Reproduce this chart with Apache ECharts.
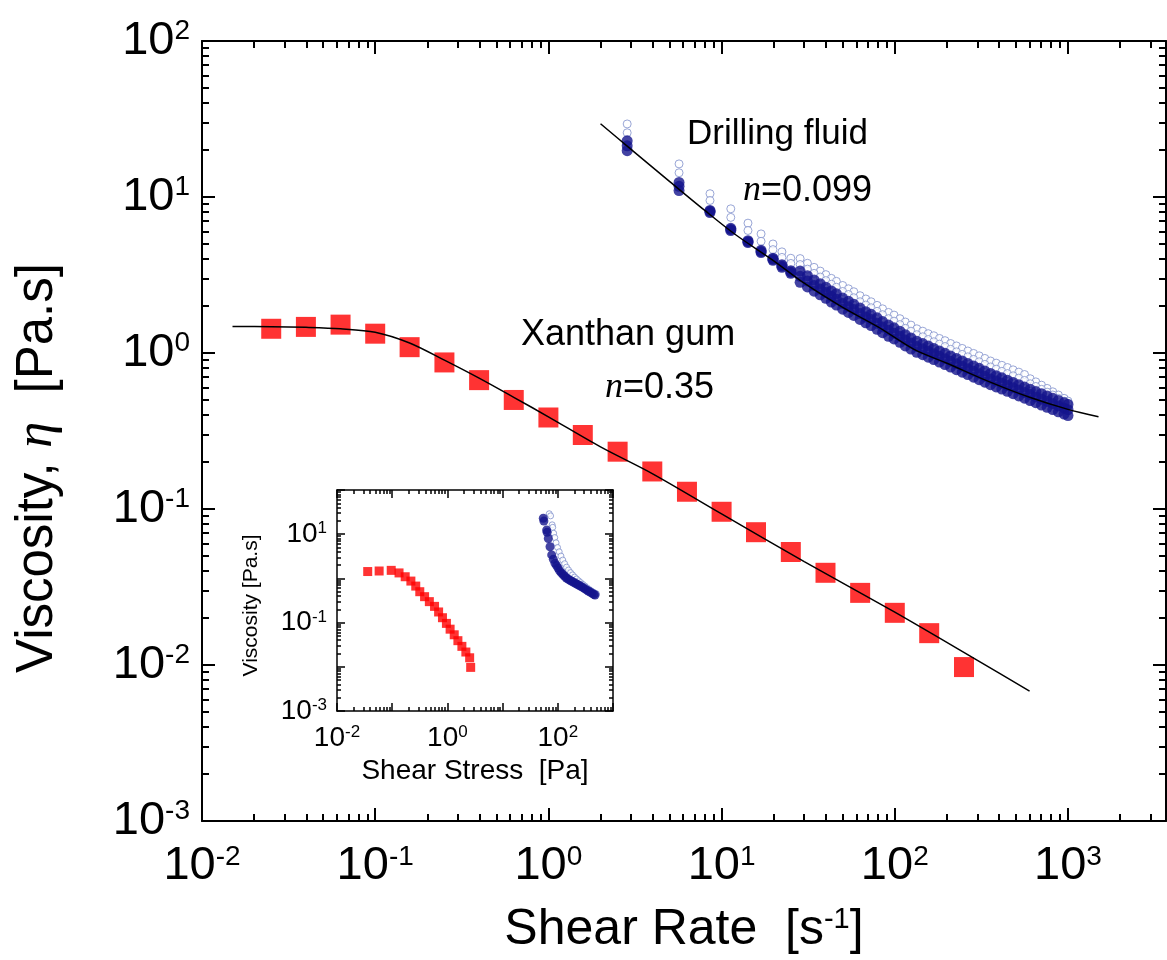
<!DOCTYPE html>
<html>
<head>
<meta charset="utf-8">
<script src="https://cdn.jsdelivr.net/npm/echarts@6/dist/echarts.min.js"></script>
<style>
html, body { margin: 0; padding: 0; background: #fff; }
#chart { width: 1167px; height: 960px; }
</style>
</head>
<body>
<div id="chart"></div>
<script>
// main plot: viscosity [Pa.s] vs shear rate [1/s]
const xanthanRate = [0.0251, 0.0398, 0.0631, 0.1, 0.158, 0.251, 0.398, 0.631, 1, 1.58, 2.51, 3.98, 6.31, 10, 15.8, 25.1, 39.8, 63.1, 100, 158, 251];
const xanthanVisc = [1.43, 1.47, 1.52, 1.33, 1.09, 0.87, 0.67, 0.50, 0.386, 0.298, 0.233, 0.174, 0.129, 0.096, 0.071, 0.053, 0.039, 0.029, 0.0216, 0.016, 0.0097];
const xanthanFitRate = [0.015, 0.0251, 0.0398, 0.0631, 0.1, 0.158, 0.251, 0.398, 0.631, 1, 2, 4, 10, 30, 100, 300, 600];
const xanthanFitVisc = [1.48, 1.475, 1.46, 1.43, 1.36, 1.16, 0.90, 0.69, 0.52, 0.39, 0.25, 0.168, 0.093, 0.046, 0.0218, 0.0107, 0.0068];

const drillRate = [2.85, 5.68, 8.57, 11.3, 14.2, 16.9, 19.8, 22.3, 25.1, 28.4, 31.3, 34.2, 37.1, 40, 43, 46, 50, 54, 58, 63, 68, 73, 79, 85, 92, 99, 107, 115, 124, 134, 145, 156, 168, 181, 195, 210, 227, 245, 264, 285, 307, 331, 357, 385, 415, 447, 482, 520, 561, 605, 652, 703, 758, 817, 880, 950, 1000];
const drillFilledLow = [19.8, 11.0, 7.95, 6.1, 5.1, 4.4, 3.93, 3.54, 3.24, 2.84, 2.65, 2.49, 2.36, 2.24, 2.12, 2.03, 1.91, 1.82, 1.74, 1.64, 1.56, 1.50, 1.42, 1.35, 1.28, 1.23, 1.17, 1.11, 1.06, 1.01, 0.975, 0.94, 0.907, 0.875, 0.843, 0.812, 0.782, 0.754, 0.727, 0.70, 0.675, 0.65, 0.626, 0.606, 0.587, 0.568, 0.549, 0.531, 0.513, 0.496, 0.48, 0.464, 0.449, 0.434, 0.42, 0.406, 0.397];
const drillFilledMid = [21.3, 11.7, 8.1, 6.2, 5.17, 4.47, 3.99, 3.61, 3.3, 3.1, 2.89, 2.71, 2.57, 2.44, 2.31, 2.21, 2.08, 1.98, 1.90, 1.79, 1.70, 1.64, 1.55, 1.47, 1.40, 1.34, 1.28, 1.21, 1.16, 1.10, 1.063, 1.025, 0.989, 0.954, 0.919, 0.885, 0.852, 0.822, 0.792, 0.763, 0.736, 0.709, 0.682, 0.661, 0.64, 0.619, 0.598, 0.579, 0.559, 0.541, 0.523, 0.506, 0.489, 0.473, 0.458, 0.443, 0.433];
const drillFilledHigh = [22.9, 12.4, 8.2, 6.3, 5.25, 4.55, 4.05, 3.68, 3.37, 3.35, 3.13, 2.94, 2.78, 2.64, 2.50, 2.40, 2.25, 2.15, 2.05, 1.94, 1.84, 1.77, 1.68, 1.59, 1.51, 1.45, 1.38, 1.31, 1.25, 1.19, 1.15, 1.11, 1.07, 1.03, 0.995, 0.958, 0.923, 0.89, 0.858, 0.826, 0.797, 0.767, 0.739, 0.715, 0.693, 0.67, 0.648, 0.627, 0.605, 0.585, 0.566, 0.548, 0.53, 0.512, 0.496, 0.479, 0.468];
const drillOpenLow = [25.8, 14.3, 9.5, 7.4, 6.1, 5.2, 4.6, 4.1, 3.75, 3.69, 3.45, 3.24, 3.07, 2.91, 2.76, 2.64, 2.48, 2.37, 2.26, 2.13, 2.03, 1.95, 1.85, 1.76, 1.66, 1.60, 1.52, 1.44, 1.38, 1.31, 1.27, 1.22, 1.18, 1.14, 1.10, 1.056, 1.017, 0.98, 0.945, 0.91, 0.878, 0.845, 0.814, 0.788, 0.763, 0.738, 0.714, 0.69, 0.667, 0.635, 0.61, 0.585, 0.561, 0.538, 0.512, 0.491, 0.476];
const drillOpenHigh = [29.4, 16.3, 10.5, 8.4, 6.8, 5.8, 5.0, 4.45, 4.05, 4.03, 3.76, 3.54, 3.35, 3.18, 3.01, 2.88, 2.71, 2.58, 2.47, 2.33, 2.22, 2.13, 2.02, 1.92, 1.82, 1.75, 1.66, 1.58, 1.51, 1.43, 1.38, 1.33, 1.29, 1.24, 1.20, 1.15, 1.11, 1.07, 1.03, 0.994, 0.959, 0.923, 0.889, 0.861, 0.834, 0.807, 0.78, 0.754, 0.728, 0.684, 0.653, 0.622, 0.593, 0.564, 0.538, 0.512, 0.492];
const drillFitRate = [2.0, 3, 5, 8, 12, 20, 30, 50, 80, 130, 200, 350, 600, 1000, 1500];
const drillFitVisc = [29.5, 20.2, 12.6, 8.2, 5.75, 3.9, 2.8, 1.96, 1.47, 1.05, 0.86, 0.655, 0.52, 0.435, 0.39];

// inset: viscosity vs shear stress [Pa]
const insetXanthanStress = [0.036, 0.058, 0.096, 0.133, 0.172, 0.218, 0.267, 0.316, 0.386, 0.471, 0.585, 0.693, 0.814, 0.96, 1.12, 1.33, 1.55, 1.83, 2.16, 2.53, 2.64];
const insetDrillStress = [54.6, 56, 62.8, 64, 67.3, 72.3, 77.5, 83, 89, 95, 101, 108, 116, 124, 133, 143, 154, 166, 179, 193, 208, 224, 242, 261, 282, 305, 330, 357, 386, 418, 450, 472];
const insetDrillVisc = [22.9, 19.8, 12.4, 11, 8.0, 5.2, 3.4, 2.7, 2.19, 1.95, 1.72, 1.48, 1.33, 1.22, 1.12, 1.02, 0.96, 0.91, 0.86, 0.815, 0.775, 0.735, 0.70, 0.665, 0.625, 0.585, 0.55, 0.52, 0.49, 0.46, 0.435, 0.42];
const insetOpenStress = [70, 74, 79, 81, 84, 88, 93, 99, 106, 114, 123, 133, 144, 156, 170, 185, 201, 219, 239, 261, 285, 311, 340, 372, 406, 440, 475, 500];
const insetOpenVisc = [29, 26, 16.3, 14.3, 10.5, 8.4, 6.4, 5.0, 4.0, 3.2, 2.6, 2.15, 1.8, 1.55, 1.35, 1.2, 1.07, 0.97, 0.88, 0.8, 0.73, 0.67, 0.61, 0.56, 0.52, 0.49, 0.46, 0.45];

// ticks and labels
const mainXTicks = [0.01, 0.1, 1, 10, 100, 1000];
const mainYTicks = [0.001, 0.01, 0.1, 1, 10, 100];
const insetXTicks = [0.01, 0.1, 1, 10, 100, 1000];
const insetYTicks = [0.001, 0.01, 0.1, 1, 10, 100];
const insetXLabels = [0.01, 1, 100];
const insetYLabels = [0.001, 0.1, 10];

const FONT = '"Liberation Sans", Arial, sans-serif';
const SERIF = '"Liberation Serif", "Times New Roman", serif';

function pairs(xs, ys) { return xs.map((x, i) => [x, ys[i]]); }

function minorValues(lo, hi) {
  const out = [];
  for (let e = Math.floor(Math.log10(lo)); e <= Math.ceil(Math.log10(hi)); e++) {
    for (let m = 2; m <= 9; m++) {
      const v = +(m * Math.pow(10, e)).toPrecision(3);
      if (v > lo && v < hi) out.push(v);
    }
  }
  return out;
}

function powLabel(v) {
  return '{b|10}{s|' + Math.round(Math.log10(v)) + '}';
}

// one side of a frame = a major-tick axis plus a minor-tick axis
function side(gridIndex, position, min, max, majors, o) {
  const base = { type: 'log', logBase: 10, gridIndex: gridIndex, position: position, min: min, max: max, splitLine: { show: false } };
  const major = Object.assign({}, base, {
    axisLine: { show: true, onZero: false, lineStyle: { color: '#000', width: o.lineWidth } },
    axisTick: { show: true, inside: true, length: o.major, customValues: majors, lineStyle: { color: '#000', width: o.tickWidth } },
    axisLabel: o.labels ? {
      show: true, customValues: o.labels, margin: o.margin, formatter: powLabel,
      rich: {
        b: { fontSize: o.fs, fontFamily: FONT, color: '#000', lineHeight: o.fs },
        s: { fontSize: o.sfs, fontFamily: FONT, color: '#000', lineHeight: o.sfs / 2, verticalAlign: 'top' }
      }
    } : { show: false }
  }, o.extra || {});
  const minor = Object.assign({}, base, {
    axisLine: { show: false, onZero: false },
    axisTick: { show: true, inside: true, length: o.minor, customValues: minorValues(min, max), lineStyle: { color: '#000', width: o.tickWidth } },
    axisLabel: { show: false }
  });
  return [major, minor];
}

const mainOpt = { lineWidth: 2, tickWidth: 2, major: 13, minor: 7, fs: 47, sfs: 28 };
const insetOpt = { lineWidth: 1.5, tickWidth: 1.5, major: 8, minor: 4, fs: 28, sfs: 17 };
const XMAX = 3680;

const xAxes = [].concat(
  side(0, 'bottom', 0.01, XMAX, mainXTicks, Object.assign({}, mainOpt, {
    labels: mainXTicks, margin: 22,
    extra: {
      name: '{t|Shear Rate  [s}{s|-1}{t|]}', nameLocation: 'middle', nameGap: 84,
      nameTextStyle: { rich: {
        t: { fontSize: 50, fontFamily: FONT, color: '#000', lineHeight: 50 },
        s: { fontSize: 29, fontFamily: FONT, color: '#000', lineHeight: 12, verticalAlign: 'top' }
      } }
    }
  })),
  side(0, 'top', 0.01, XMAX, mainXTicks, mainOpt),
  side(1, 'bottom', 0.01, 1000, insetXTicks, Object.assign({}, insetOpt, {
    labels: insetXLabels, margin: 13,
    extra: {
      name: 'Shear Stress  [Pa]', nameLocation: 'middle', nameGap: 46,
      nameTextStyle: { fontSize: 28, fontFamily: FONT, color: '#000' }
    }
  })),
  side(1, 'top', 0.01, 1000, insetXTicks, insetOpt)
);

const yAxes = [].concat(
  side(0, 'left', 0.001, 100, mainYTicks, Object.assign({}, mainOpt, {
    labels: mainYTicks, margin: 12,
    extra: {
      name: '{t|Viscosity, }{i|η}{t|  [Pa.s]}', nameLocation: 'middle', nameGap: 138,
      nameTextStyle: { padding: [0, 74, 0, 0], rich: {
        t: { fontSize: 51, fontFamily: FONT, color: '#000' },
        i: { fontSize: 53, fontFamily: SERIF, fontStyle: 'italic', color: '#000' }
      } }
    }
  })),
  side(0, 'right', 0.001, 100, mainYTicks, mainOpt),
  side(1, 'left', 0.001, 100, insetYTicks, Object.assign({}, insetOpt, {
    labels: insetYLabels, margin: 10,
    extra: {
      name: 'Viscosity [Pa.s]', nameLocation: 'middle', nameGap: 75,
      nameTextStyle: { fontSize: 21, fontFamily: FONT, color: '#000', padding: [0, 10, 0, 0] }
    }
  })),
  side(1, 'right', 0.001, 100, insetYTicks, insetOpt)
);

const NAVY = '#14148c';
const OPEN = { color: '#ffffff', borderColor: '#8090cc', borderWidth: 1 };

function dots(xIdx, data, size, style, z) {
  return { type: 'scatter', xAxisIndex: xIdx, yAxisIndex: xIdx, data: data, symbol: 'circle', symbolSize: size, itemStyle: style, z: z, silent: true };
}

const option = {
  animation: false,
  backgroundColor: '#fff',
  grid: [
    { left: 202, top: 41, width: 964, height: 783 },
    { left: 337, top: 490, width: 276, height: 221 }
  ],
  xAxis: xAxes,
  yAxis: yAxes,
  series: [
    { type: 'scatter', xAxisIndex: 0, yAxisIndex: 0, data: pairs(xanthanRate, xanthanVisc), symbol: 'rect', symbolSize: 20, itemStyle: { color: '#ff0000' }, z: 3, silent: true },
    { type: 'line', xAxisIndex: 0, yAxisIndex: 0, data: pairs(xanthanFitRate, xanthanFitVisc), smooth: 0.3, showSymbol: false, lineStyle: { color: '#000', width: 1.5 }, z: 6, silent: true },
    dots(0, pairs(drillRate, drillOpenHigh), 8, OPEN, 3),
    dots(0, pairs(drillRate, drillOpenLow), 8, OPEN, 3),
    dots(0, pairs(drillRate, drillFilledHigh), 11, { color: NAVY }, 4),
    dots(0, pairs(drillRate, drillFilledMid), 11, { color: NAVY }, 4),
    dots(0, pairs(drillRate, drillFilledLow), 11, { color: NAVY }, 4),
    { type: 'line', xAxisIndex: 0, yAxisIndex: 0, data: pairs(drillFitRate, drillFitVisc), smooth: 0.3, showSymbol: false, lineStyle: { color: '#000', width: 1.5 }, z: 6, silent: true },
    // inset
    { type: 'scatter', xAxisIndex: 4, yAxisIndex: 4, data: pairs(insetXanthanStress, xanthanVisc), symbol: 'rect', symbolSize: 9, itemStyle: { color: '#ff0000' }, z: 3, silent: true },
    dots(4, pairs(insetOpenStress, insetOpenVisc), 6, OPEN, 3),
    dots(4, pairs(insetDrillStress, insetDrillVisc), 9, { color: NAVY }, 4)
  ],
  graphic: [
    { type: 'text', x: 687, y: 134, style: { text: 'Drilling fluid', fontSize: 35, fontFamily: FONT, fill: '#000', verticalAlign: 'middle' } },
    { type: 'text', x: 743, y: 191, style: { text: '{i|n}{r|=0.099}', verticalAlign: 'middle', rich: {
      i: { fontSize: 36, fontFamily: SERIF, fontStyle: 'italic', fill: '#000' },
      r: { fontSize: 36, fontFamily: FONT, fill: '#000' } } } },
    { type: 'text', x: 521, y: 335, style: { text: 'Xanthan gum', fontSize: 36, fontFamily: FONT, fill: '#000', verticalAlign: 'middle' } },
    { type: 'text', x: 605, y: 388, style: { text: '{i|n}{r|=0.35}', verticalAlign: 'middle', rich: {
      i: { fontSize: 36, fontFamily: SERIF, fontStyle: 'italic', fill: '#000' },
      r: { fontSize: 36, fontFamily: FONT, fill: '#000' } } } }
  ]
};

const chart = echarts.init(document.getElementById('chart'));
chart.setOption(option);
window.onresize = () => chart.resize();
</script>
</body>
</html>
